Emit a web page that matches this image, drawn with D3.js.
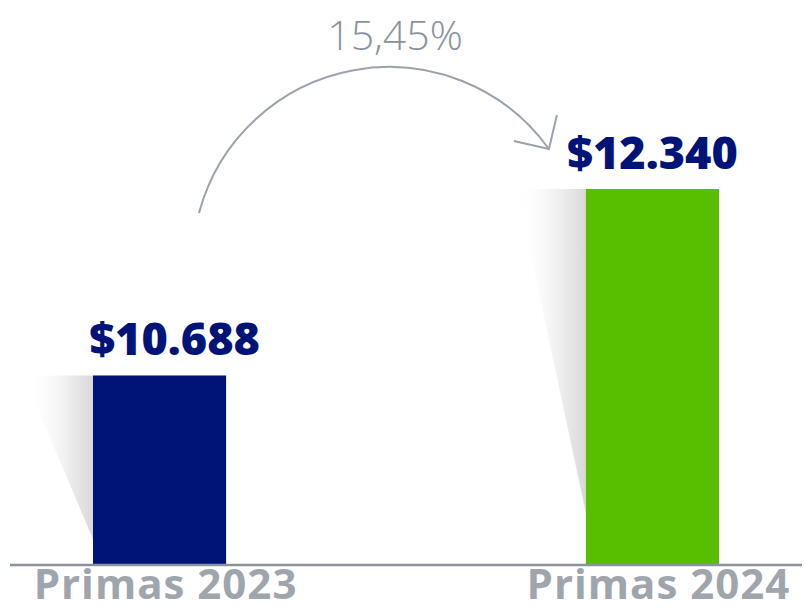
<!DOCTYPE html>
<html>
<head>
<meta charset="utf-8">
<script src="https://cdn.jsdelivr.net/npm/d3@7"></script>
<style>
  html, body { margin: 0; padding: 0; background: #fff; }
  svg { display: block; }
</style>
</head>
<body>
<div id="chart"></div>
<script>
const categories = ['Primas 2023', 'Primas 2024'];
const values = [10688, 12340];
const valueLabels = ['$10.688', '$12.340'];
const barColors = ['#001478', '#57bf00'];
const growthLabel = '15,45%';

const cfg = {
  width: 804,
  height: 612,
  baseline: 566,
  top: 189,
  font: '"Open Sans", "DejaVu Sans", sans-serif',
  valueShift: [15, 0]
};

const svg = d3.select('#chart')
  .append('svg')
  .attr('width', cfg.width)
  .attr('height', cfg.height);

const x = d3.scaleBand()
  .domain(categories)
  .range([93, 719])
  .paddingInner(0.73)
  .paddingOuter(0);

// value axis does not start at zero in the original
const y = d3.scaleLinear()
  .domain([9000, 12340])
  .range([cfg.baseline, cfg.top]);

// soft shadow at the left of each bar
const defs = svg.append('defs');
const grad = defs.append('linearGradient')
  .attr('id', 'shade')
  .attr('x1', '0%').attr('x2', '100%')
  .attr('y1', '0%').attr('y2', '0%');
grad.append('stop').attr('offset', '0%').attr('stop-color', '#ffffff').attr('stop-opacity', 0);
grad.append('stop').attr('offset', '60%').attr('stop-color', '#f0f0f0').attr('stop-opacity', 1);
grad.append('stop').attr('offset', '100%').attr('stop-color', '#d9d9d9').attr('stop-opacity', 1);

const data = categories.map((c, i) => ({ i, cat: c, value: values[i], label: valueLabels[i], color: barColors[i] }));

svg.selectAll('.shade')
  .data(data)
  .enter()
  .append('path')
  .attr('class', 'shade')
  .attr('fill', 'url(#shade)')
  .attr('d', d => {
    const x0 = x(d.cat);
    const yt = y(d.value);
    const h = cfg.baseline - yt;
    const w = x.bandwidth() * 0.52;
    return `M${x0 - w},${yt}L${x0},${yt}L${x0},${yt + h * 0.86}Z`;
  });

svg.selectAll('.bar')
  .data(data)
  .enter()
  .append('rect')
  .attr('class', 'bar')
  .attr('x', d => x(d.cat))
  .attr('y', d => y(d.value))
  .attr('width', x.bandwidth())
  .attr('height', d => cfg.baseline - y(d.value))
  .attr('fill', d => d.color);

// baseline
svg.append('line')
  .attr('x1', 10)
  .attr('x2', 802)
  .attr('y1', cfg.baseline - 1)
  .attr('y2', cfg.baseline - 1)
  .attr('stroke', '#8a929c')
  .attr('stroke-width', 2.5);

// value labels
svg.selectAll('.val')
  .data(data)
  .enter()
  .append('text')
  .attr('class', 'val')
  .attr('x', d => x(d.cat) + x.bandwidth() / 2 + cfg.valueShift[d.i])
  .attr('y', d => y(d.value) - 20)
  .attr('text-anchor', 'middle')
  .attr('font-family', cfg.font)
  .attr('font-weight', 800)
  .attr('font-size', 45)
  .attr('fill', '#001478')
  .text(d => d.label);

// category labels
svg.selectAll('.cat')
  .data(data)
  .enter()
  .append('text')
  .attr('class', 'cat')
  .attr('x', d => x(d.cat) + x.bandwidth() / 2 + 6)
  .attr('y', 599)
  .attr('text-anchor', 'middle')
  .attr('font-family', cfg.font)
  .attr('font-weight', 700)
  .attr('font-size', 42)
  .attr('letter-spacing', 1)
  .attr('fill', '#9ea5ad')
  .text(d => d.cat);

// growth arrow: circular arc through three points
const p1 = [x(categories[0]) + 106, 213];
const p2 = [387, 67];
const p3 = [x(categories[1]) - 37, 149];

function circleThrough(a, b, c) {
  const A1 = 2 * (b[0] - a[0]), B1 = 2 * (b[1] - a[1]);
  const C1 = b[0] ** 2 - a[0] ** 2 + b[1] ** 2 - a[1] ** 2;
  const A2 = 2 * (c[0] - b[0]), B2 = 2 * (c[1] - b[1]);
  const C2 = c[0] ** 2 - b[0] ** 2 + c[1] ** 2 - b[1] ** 2;
  const det = A1 * B2 - A2 * B1;
  const cx = (C1 * B2 - C2 * B1) / det;
  const cy = (A1 * C2 - A2 * C1) / det;
  return [cx, cy, Math.hypot(a[0] - cx, a[1] - cy)];
}
const [cx, cy, r] = circleThrough(p1, p2, p3);
const a0 = Math.atan2(p1[1] - cy, p1[0] - cx);
const a1 = Math.atan2(p3[1] - cy, p3[0] - cx);
const arc = d3.path();
arc.arc(cx, cy, r, a0, a1, false);

svg.append('path')
  .attr('d', arc.toString())
  .attr('fill', 'none')
  .attr('stroke', '#9aa2ac')
  .attr('stroke-width', 2);

const head = d3.path();
head.moveTo(p3[0] - 35, p3[1] - 8);
head.lineTo(p3[0], p3[1]);
head.lineTo(p3[0] + 8, p3[1] - 34);
svg.append('path')
  .attr('d', head.toString())
  .attr('fill', 'none')
  .attr('stroke', '#9aa2ac')
  .attr('stroke-width', 2);

svg.append('text')
  .attr('x', 395)
  .attr('y', 50)
  .attr('text-anchor', 'middle')
  .attr('font-family', cfg.font)
  .attr('font-weight', 300)
  .attr('font-size', 41)
  .attr('fill', '#8a939d')
  .text(growthLabel);
</script>
</body>
</html>
